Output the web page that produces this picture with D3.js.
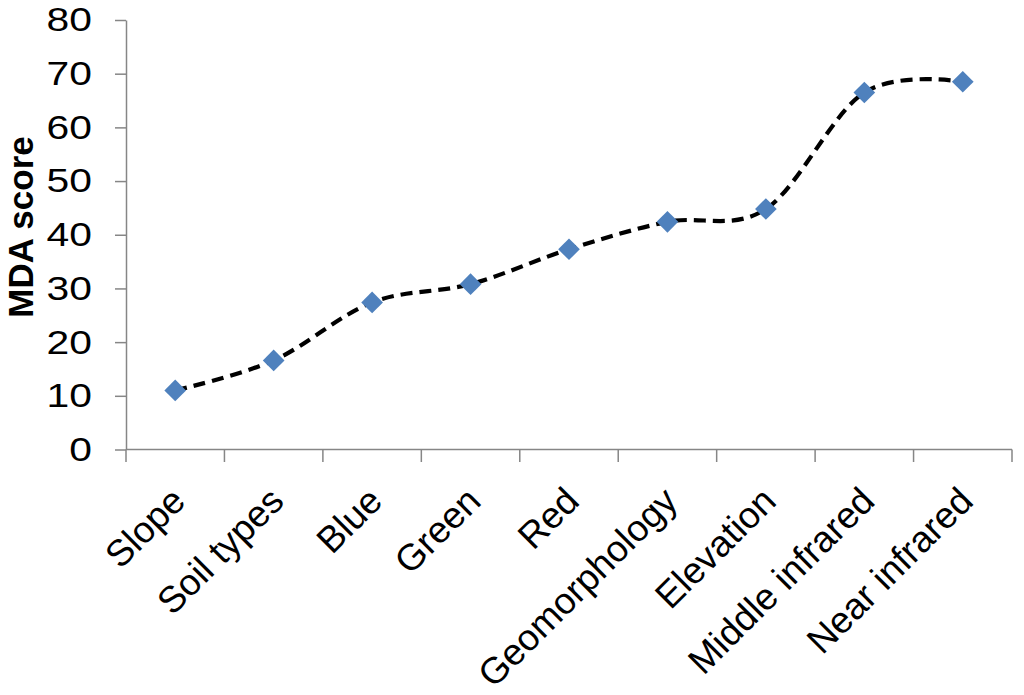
<!DOCTYPE html>
<html>
<head>
<meta charset="utf-8">
<script src="https://cdn.jsdelivr.net/npm/d3@7"></script>
<style>
  html, body { margin: 0; padding: 0; background: #fff; }
  svg { display: block; font-family: "Liberation Sans", Arial, sans-serif; }
</style>
</head>
<body>
<svg id="chart" width="1024" height="695"></svg>
<script>
const categories = ["Slope", "Soil types", "Blue", "Green", "Red", "Geomorphology", "Elevation", "Middle infrared", "Near infrared"];
const mdaValues = [11, 16.6, 27.4, 30.8, 37.3, 42.4, 44.8, 66.5, 68.5];
const yTickValues = [0, 10, 20, 30, 40, 50, 60, 70, 80];
const yAxisTitle = "MDA score";

(function () {
const svg = d3.select("#chart");
const axisColor = "#868686";
const mLeft = 126, mRight = 1012, mTop = 20, mBottom = 449.5;

const x = d3.scaleBand().domain(categories).range([mLeft, mRight]).paddingInner(0).paddingOuter(0);
const y = d3.scaleLinear().domain([0, 80]).range([mBottom, mTop]);

// Y axis
const yAxis = svg.append("g").attr("transform", `translate(${mLeft},0)`)
  .call(d3.axisLeft(y).tickValues(yTickValues).tickSize(11).tickPadding(23).tickSizeOuter(0));
yAxis.select(".domain").attr("stroke", axisColor).attr("stroke-width", 1.5);
yAxis.selectAll(".tick line").attr("stroke", axisColor).attr("stroke-width", 1.5);
yAxis.selectAll(".tick text").attr("font-size", 34).attr("fill", "#000")
  .attr("font-family", "Liberation Sans, Arial, sans-serif")
  .attr("x", 0).attr("transform", "translate(-34,0) scale(1.2,1)");

// X axis: ticks at band boundaries
const boundaries = categories.map(c => x(c)).concat([x(categories[categories.length - 1]) + x.bandwidth()]);
const xg = svg.append("g");
xg.append("line").attr("x1", mLeft).attr("x2", mRight).attr("y1", mBottom).attr("y2", mBottom)
  .attr("stroke", axisColor).attr("stroke-width", 1.5);
xg.selectAll("line.tk").data(boundaries).enter().append("line").attr("class", "tk")
  .attr("x1", d => d).attr("x2", d => d).attr("y1", mBottom).attr("y2", mBottom + 12.5)
  .attr("stroke", axisColor).attr("stroke-width", 1.5);
xg.selectAll("text").data(categories).enter().append("text")
  .attr("transform", d => `translate(${x(d) + x.bandwidth() / 2 + 3},494) rotate(-45)`)
  .attr("text-anchor", "end").attr("dy", "0.35em")
  .attr("font-size", 37).attr("fill", "#000")
  .text(d => d);

// Y axis title
svg.append("text")
  .attr("transform", `translate(33,227) rotate(-90)`)
  .attr("text-anchor", "middle")
  .attr("font-size", 35).attr("font-weight", "bold").attr("fill", "#000")
  .text(yAxisTitle);

// Line
const pts = categories.map((c, i) => [x(c) + x.bandwidth() / 2, y(mdaValues[i])]);
svg.append("path")
  .attr("d", d3.line().curve(d3.curveCardinal.tension(0))(pts))
  .attr("fill", "none").attr("stroke", "#000").attr("stroke-width", 4.2)
  .attr("stroke-dasharray", "12,7");

// Markers
svg.selectAll("path.mk").data(pts).enter().append("path").attr("class", "mk")
  .attr("d", d3.symbol(d3.symbolSquare).size(235)())
  .attr("transform", d => `translate(${d[0]},${d[1]}) rotate(45)`)
  .attr("fill", "#4F81BD");
})();
</script>
</body>
</html>
